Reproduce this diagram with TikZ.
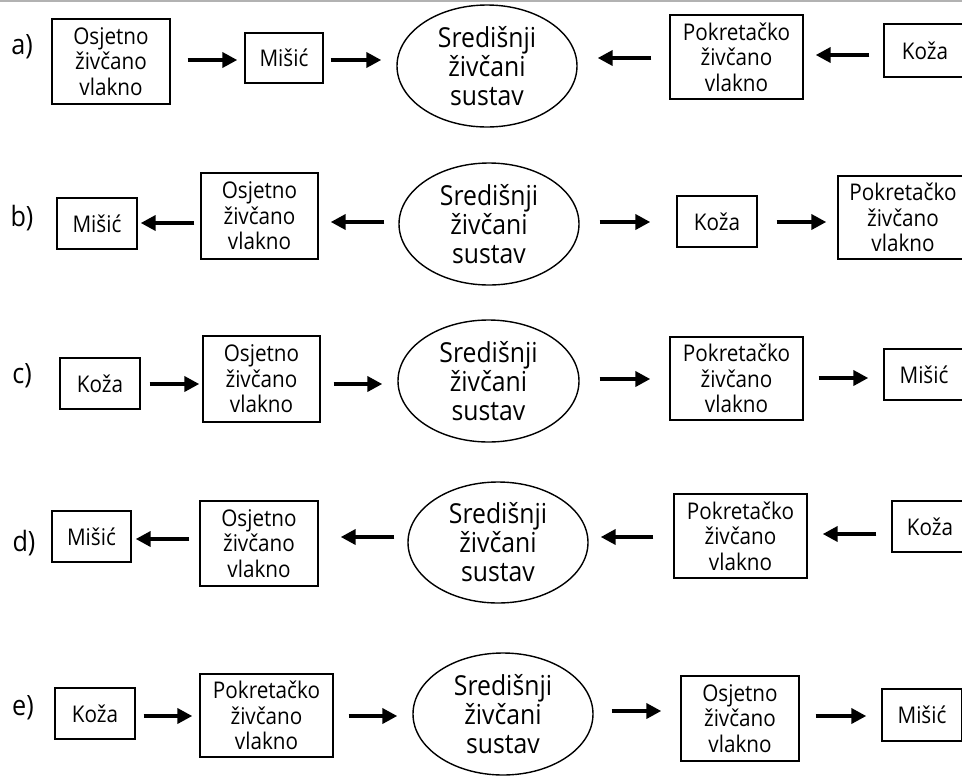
\documentclass[tikz,border=0pt]{standalone}
\usepackage{fontspec}
\setmainfont{Open Sans}[FakeStretch=0.9]
\usetikzlibrary{shapes.geometric,arrows.meta,calc}
\begin{document}
\begin{tikzpicture}[x=1pt,y=-1pt,
  box/.style={draw, line width=1.4pt, rectangle, inner sep=0pt, align=center, font=\fontsize{23}{25.5}\selectfont},
  oval/.style={draw, line width=1.4pt, ellipse, inner sep=0pt, minimum width=180pt, minimum height=122pt, align=center, font=\fontsize{27.5}{29}\selectfont},
  lab/.style={font=\fontsize{28}{30}\selectfont, inner sep=0pt},
  arr/.style={line width=4pt, -{Triangle[length=15pt,width=15pt]}},
  sz/.style 2 args={minimum width=#1pt, minimum height=#2pt}
]
\useasboundingbox (0,0) rectangle (962,780);
\draw[gray!60, line width=1.5pt] (0,0.75) -- (962,0.75);

% labels
\node[lab] (la) at (22,47) {a)};
\node[lab] (lb) at (22,218) {b)};
\node[lab] (lc) at (22,376) {c)};
\node[lab] (ld) at (24,543) {d)};
\node[lab] (le) at (23,708) {e)};

% row a
\node[box, sz={118}{85}] (a1) at (111,61.5) {Osjetno\\živčano\\vlakno};
\node[box, sz={78}{50}] (a2) at (284,58) {Mišić};
\node[oval] (a3) at (487,66) {Središnji\\živčani\\sustav};
\node[box, sz={133}{84}] (a4) at (736.5,57) {Pokretačko\\živčano\\vlakno};
\node[box, sz={82}{53}] (a5) at (925,50.5) {Koža};
\draw[arr, shorten <=17pt, shorten >=7pt] ($(a1.east)+(0,-1.5)$) -- ($(a1.east -| a2.west)+(0,-1.5)$);
\draw[arr, shorten <=7pt, shorten >=15pt] ($(a2.east)+(0,2)$) -- ($(a2.east -| a3.west)+(0,2)$);
\draw[arr, shorten <=18pt, shorten >=20pt] ($(a4.west)+(0,1)$) -- ($(a4.west -| a3.east)+(0,1)$);
\draw[arr, shorten <=14pt, shorten >=12pt] ($(a5.west)+(0,4.5)$) -- ($(a5.west -| a4.east)+(0,4.5)$);

% row b
\node[box, sz={80}{51}] (b1) at (97,223.5) {Mišić};
\node[box, sz={117}{86}] (b2) at (259.5,216) {Osjetno\\živčano\\vlakno};
\node[oval] (b3) at (489,224) {Središnji\\živčani\\sustav};
\node[box, sz={80}{51}] (b4) at (717,221.5) {Koža};
\node[box, sz={130}{83}] (b5) at (903,217.5) {Pokretačko\\živčano\\vlakno};
\draw[arr, shorten <=6pt, shorten >=3pt] ($(b2.west)+(0,7)$) -- ($(b2.west -| b1.east)+(0,7)$);
\draw[arr, shorten <=14pt, shorten >=12pt] ($(b3.west)+(0,-2)$) -- ($(b3.west -| b2.east)+(0,-2)$);
\draw[arr, shorten <=20pt, shorten >=26pt] ($(b3.east)+(0,-2)$) -- ($(b3.east -| b4.west)+(0,-2)$);
\draw[arr, shorten <=19pt, shorten >=11pt] ($(b4.east)+(0,0.5)$) -- ($(b4.east -| b5.west)+(0,0.5)$);

% row c
\node[box, sz={80}{51}] (c1) at (100,383.5) {Koža};
\node[box, sz={117}{86}] (c2) at (261.5,379) {Osjetno\\živčano\\vlakno};
\node[oval, minimum width=181pt] (c3) at (488.5,381) {Središnji\\živčani\\sustav};
\node[box, sz={133}{83}] (c4) at (736.5,378.5) {Pokretačko\\živčano\\vlakno};
\node[box, sz={80}{51}] (c5) at (924,374.5) {Mišić};
\draw[arr, shorten <=9pt, shorten >=3pt] ($(c1.east)+(0,0.5)$) -- ($(c1.east -| c2.west)+(0,0.5)$);
\draw[arr, shorten <=13pt, shorten >=15pt] ($(c2.east)+(0,5)$) -- ($(c2.east -| c3.west)+(0,5)$);
\draw[arr, shorten <=20pt, shorten >=19pt] ($(c3.east)+(0,-2)$) -- ($(c3.east -| c4.west)+(0,-2)$);
\draw[arr, shorten <=15pt, shorten >=15pt] ($(c4.east)+(0,-0.5)$) -- ($(c4.east -| c5.west)+(0,-0.5)$);

% row d
\node[box, sz={79}{51}] (d1) at (91.5,536.5) {Mišić};
\node[box, sz={118}{85}] (d2) at (259,543.5) {Osjetno\\živčano\\vlakno};
\node[oval, minimum height=121pt] (d3) at (498,542.5) {Središnji\\živčani\\sustav};
\node[box, sz={133}{84}] (d4) at (740.5,536) {Pokretačko\\živčano\\vlakno};
\node[box, sz={76}{51}] (d5) at (930,526.5) {Koža};
\draw[arr, shorten <=10pt, shorten >=4pt] ($(d2.west)+(0,-4.5)$) -- ($(d2.west -| d1.east)+(0,-4.5)$);
\draw[arr, shorten <=13pt, shorten >=22pt] ($(d3.west)+(0,-5.5)$) -- ($(d3.west -| d2.east)+(0,-5.5)$);
\draw[arr, shorten <=20pt, shorten >=12pt] ($(d4.west)+(0,1)$) -- ($(d4.west -| d3.east)+(0,1)$);
\draw[arr, shorten <=15pt, shorten >=15pt] ($(d5.west)+(0,7.5)$) -- ($(d5.west -| d4.east)+(0,7.5)$);

% row e
\node[box, sz={80}{51}] (e1) at (95,713.5) {Koža};
\node[box, sz={133}{83}] (e2) at (266.5,715.5) {Pokretačko\\živčano\\vlakno};
\node[oval] (e3) at (503,714) {Središnji\\živčani\\sustav};
\node[box, sz={118}{85}] (e4) at (740,718.5) {Osjetno\\živčano\\vlakno};
\node[box, sz={80}{52}] (e5) at (922,715) {Mišić};
\draw[arr, shorten <=8pt, shorten >=7pt] ($(e1.east)+(0,2.5)$) -- ($(e1.east -| e2.west)+(0,2.5)$);
\draw[arr, shorten <=15pt, shorten >=15pt] ($(e2.east)+(0,0.5)$) -- ($(e2.east -| e3.west)+(0,0.5)$);
\draw[arr, shorten <=18pt, shorten >=19pt] ($(e3.east)+(0,-3)$) -- ($(e3.east -| e4.west)+(0,-3)$);
\draw[arr, shorten <=16pt, shorten >=15pt] ($(e4.east)+(0,-2.5)$) -- ($(e4.east -| e5.west)+(0,-2.5)$);
\end{tikzpicture}
\end{document}
